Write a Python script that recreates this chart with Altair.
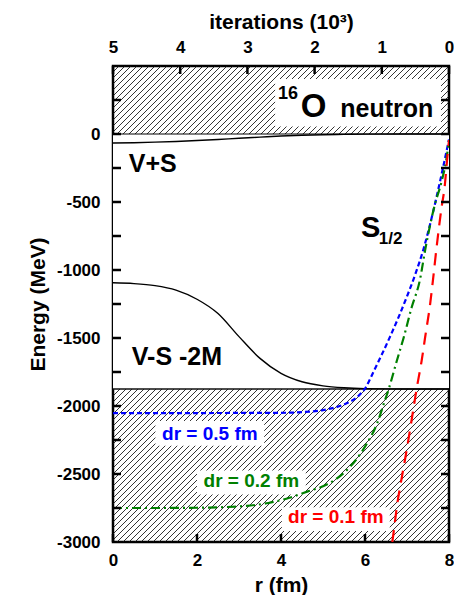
import altair as alt
import pandas as pd
import numpy as np

FONT = "Liberation Sans"
W, H = 336, 476

# ---------------- data ----------------
vps_r = [0, 0.5, 1, 1.5, 2, 2.5, 3, 3.5, 4, 4.5, 5, 5.5, 6, 7, 8]
vps_E = [-66, -64, -60, -55, -48, -40, -31, -23, -15, -9, -5, -3, -1, 0, 0]

vms_r = [0, 0.5, 1, 1.5, 2, 2.5, 3, 3.5, 4, 4.5, 5, 5.5, 6, 7, 8]
vms_E = [-1094, -1100, -1115, -1148, -1215, -1320, -1490, -1650, -1760, -1822,
         -1852, -1866, -1872, -1875, -1875]

blue_r = [0, 1, 2, 3, 4, 4.5, 5.0, 5.3, 5.6, 5.8, 5.9, 6.0, 6.1, 6.2, 6.4, 6.6,
          6.8, 7.0, 7.2, 7.4, 7.6, 7.8, 8.0]
blue_E = [-2053, -2053, -2052, -2051, -2050, -2045, -2030, -2010, -1975, -1938,
          -1908, -1872, -1815, -1750, -1622, -1488, -1346, -1194, -1029, -839,
          -600, -330, -40]

green_r = [0, 1, 2, 3, 3.7, 4.2, 4.64, 5.1, 5.5, 5.82, 6.05, 6.29, 6.45, 6.57,
           6.76, 6.92, 7.11, 7.31, 7.43, 7.66, 7.82, 7.94, 8.0]
green_E = [-2750, -2750, -2748, -2738, -2713, -2675, -2628, -2576, -2491, -2382,
           -2273, -2127, -1981, -1870, -1665, -1498, -1276, -1069, -857, -523,
           -353, -182, -45]

red_r = [6.65, 6.68, 6.76, 6.88, 7.0, 7.11, 7.23, 7.35, 7.43, 7.55, 7.62, 7.70,
         7.82, 7.9, 7.95, 8.0]
red_E = [-3000, -2932, -2738, -2519, -2310, -2103, -1872, -1665, -1498, -1252,
         -1069, -845, -547, -377, -206, -45]

forbidden_top = 0
forbidden_bottom = -1875

x_ticks = [0, 2, 4, 6, 8]
y_ticks = [-3000, -2500, -2000, -1500, -1000, -500, 0]
y_minor = [-2750, -2500, -2250, -2000, -1750, -1500, -1250, -1000, -750, -500,
           -250, 0, 250]
iters = [5, 4, 3, 2, 1, 0]

# ---------------- scales / axes ----------------
PX_PER_FM = W / 8.0
MEV_PER_PX = 3500.0 / H

xs = alt.Scale(domain=[0, 8], nice=False, zero=False)
ys = alt.Scale(domain=[-3000, 500], nice=False, zero=False)

x_axis = alt.Axis(values=x_ticks, title="r (fm)", ticks=False, domain=False, grid=False,
                  labelFlush=False, labelPadding=10, titlePadding=6,
                  labelFontSize=17, labelFontWeight="bold", labelFont=FONT,
                  titleFontSize=21, titleFontWeight="bold", titleFont=FONT,
                  labelColor="black", titleColor="black")
y_axis = alt.Axis(values=y_ticks, title="Energy (MeV)", ticks=False, domain=False, grid=False,
                  labelPadding=13, titlePadding=8, labelExpr="'' + datum.value",
                  labelFontSize=17, labelFontWeight="bold", labelFont=FONT,
                  titleFontSize=21, titleFontWeight="bold", titleFont=FONT,
                  labelColor="black", titleColor="black")


def X(f):
    return alt.X(f, type="quantitative", scale=xs, axis=x_axis)


def Y(f):
    return alt.Y(f, type="quantitative", scale=ys, axis=y_axis)


# hatch pattern (decoration): 45-degree lines every 6 px
cs = np.arange(0, W + H + 6, 6)
hatch = pd.DataFrame({"r1": cs / PX_PER_FM, "E1": 500.0,
                      "r2": (cs - H) / PX_PER_FM, "E2": -3000.0})
hatch_layer = alt.Chart(hatch).mark_rule(clip=True, color="#111", strokeWidth=0.85).encode(
    x=X("r1"), x2="r2", y=Y("E1"), y2="E2")


def white_box(r1, r2, e1, e2):
    d = pd.DataFrame({"r1": [r1], "r2": [r2], "E1": [e1], "E2": [e2]})
    return alt.Chart(d).mark_rect(color="white", clip=True).encode(
        x=X("r1"), x2="r2", y=Y("E1"), y2="E2")


band_clear = white_box(0, 8, forbidden_bottom, forbidden_top)
box_title = white_box(3.86, 7.81, 55, 405)
box_b = white_box(1.01, 3.6, -2110, -2293)
box_g = white_box(2.0, 4.59, -2475, -2650)
box_r = white_box(4.02, 6.59, -2745, -2920)


def hline(e, width, color):
    d = pd.DataFrame({"E": [e], "r1": [0.0], "r2": [8.0]})
    return alt.Chart(d).mark_rule(color=color, strokeWidth=width).encode(
        y=Y("E"), x=X("r1"), x2="r2")


edge0 = hline(forbidden_top, 1.0, "black")
edge1 = hline(forbidden_bottom, 1.6, "#111")


def curve(rs, es, color, width=1.4, dash=None):
    d = pd.DataFrame({"r": rs, "E": es})
    kw = dict(color=color, strokeWidth=width, clip=True, interpolate="monotone")
    if dash:
        kw["strokeDash"] = dash
    return alt.Chart(d).mark_line(**kw).encode(x=X("r"), y=Y("E"), order="r:Q")


c_vps = curve(vps_r, vps_E, "black", 1.4)
c_vms = curve(vms_r, vms_E, "black", 1.4)
c_b = curve(blue_r, blue_E, "#0000ff", 2.2, [5, 3])
c_g = curve(green_r, green_E, "#008000", 2.2, [9, 4, 2, 4])
c_r = curve(red_r, red_E, "#ff0000", 2.2, [12, 8])


def label(txt, r, e, size, color="black", align="left", baseline="alphabetic"):
    d = pd.DataFrame({"r": [r], "E": [e], "t": [txt]})
    return alt.Chart(d).mark_text(font=FONT, fontWeight="bold", fontSize=size, color=color,
                                  align=align, baseline=baseline).encode(
        x=X("r"), y=Y("E"), text="t:N")


texts = [
    label("16", 3.93, 259, 18),
    label("O", 4.47, 128, 33),
    label("neutron", 5.41, 128, 25),
    label("V+S", 0.376, -280, 25),
    label("V-S -2M", 0.447, -1695, 25),
    label("S", 5.906, -754, 29),
    label("1/2", 6.33, -812, 17),
    label("dr = 0.5 fm", 2.306, -2205, 19, "#0000ff", "center", "middle"),
    label("dr = 0.2 fm", 3.294, -2555, 19, "#008000", "center", "middle"),
    label("dr = 0.1 fm", 5.306, -2818, 19, "#ff0000", "center", "middle"),
]

# inward tick marks (decoration), drawn in data units
TL = 8  # px
tk = pd.DataFrame({"E": y_minor})
left_ticks = alt.Chart(tk).transform_calculate(
    a="0", b=str(TL / PX_PER_FM)).mark_rule(color="black", strokeWidth=2.5).encode(
    y=Y("E"), x=X("a:Q"), x2="b:Q")
right_ticks = alt.Chart(tk).transform_calculate(
    a=str(8 - TL / PX_PER_FM), b="8").mark_rule(color="black", strokeWidth=2.5).encode(
    y=Y("E"), x=X("a:Q"), x2="b:Q")
bt = pd.DataFrame({"r": x_ticks})
bottom_ticks = alt.Chart(bt).transform_calculate(
    a="-3000", b=str(-3000 + TL * MEV_PER_PX)).mark_rule(color="black", strokeWidth=2.5).encode(
    x=X("r"), y=Y("a:Q"), y2="b:Q")

main = alt.layer(hatch_layer, band_clear, box_title, box_b, box_g, box_r,
                 edge0, edge1, c_vps, c_vms, c_b, c_g, c_r,
                 left_ticks, right_ticks, bottom_ticks, *texts)

top_axis = alt.Axis(orient="top", values=iters, title="iterations (10³)", ticks=False,
                    domain=False, grid=False, labelFlush=False, labelPadding=10, titlePadding=6,
                    labelFontSize=17, labelFontWeight="bold", labelFont=FONT,
                    titleFontSize=21, titleFontWeight="bold", titleFont=FONT,
                    labelColor="black", titleColor="black")
top = alt.Chart(pd.DataFrame({"it": iters})).transform_calculate(
    a="500", b=str(500 - TL * MEV_PER_PX)).mark_rule(color="black", strokeWidth=2.5).encode(
    x=alt.X("it:Q", scale=alt.Scale(domain=[0, 5], reverse=True, nice=False, zero=False),
            axis=top_axis),
    y=Y("a:Q"), y2="b:Q")

chart = alt.layer(main, top).resolve_scale(x="independent").properties(
    width=W, height=H, padding={"left": 19, "top": 3, "right": 0, "bottom": 0},
    background="white"
).configure_view(stroke="black", strokeWidth=2.5)

chart.save("out.html", embed_options={"renderer": "svg", "actions": False})
